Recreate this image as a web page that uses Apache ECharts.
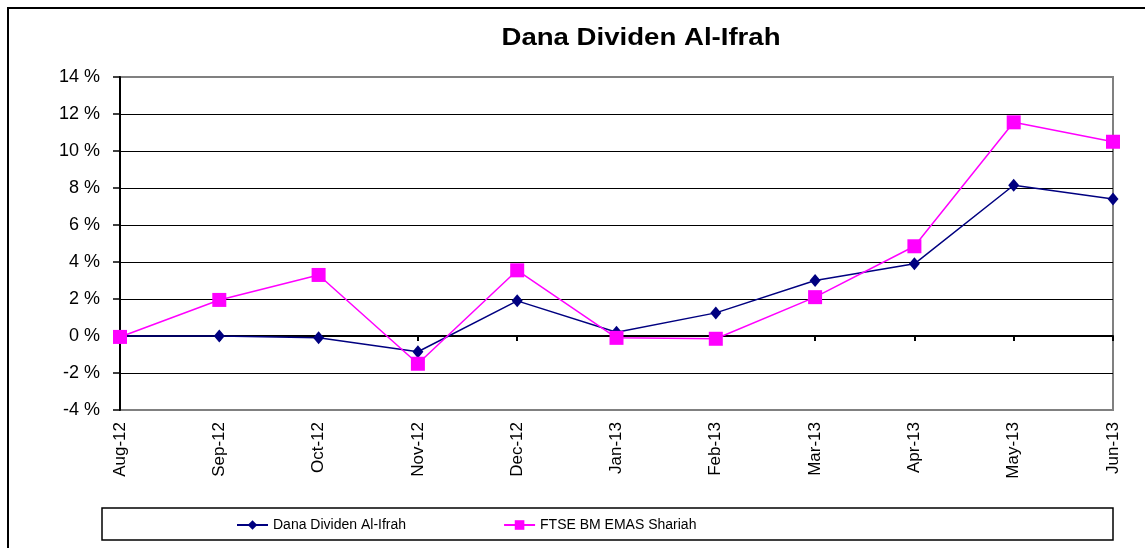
<!DOCTYPE html>
<html>
<head>
<meta charset="utf-8">
<script src="https://cdn.jsdelivr.net/npm/echarts@6/dist/echarts.min.js"></script>
<style>
    html, body { margin: 0; padding: 0; background: #fff; }
    #main { width: 1145px; height: 548px; }
</style>
</head>
<body>
<div id="main"></div>
<script>
    // data (percent)
    var months = ['Aug-12', 'Sep-12', 'Oct-12', 'Nov-12', 'Dec-12', 'Jan-13', 'Feb-13', 'Mar-13', 'Apr-13', 'May-13', 'Jun-13'];
    var danaName = 'Dana Dividen Al-Ifrah';
    var ftseName = 'FTSE BM EMAS Shariah';
    var danaValues = [0, 0, -0.1, -0.85, 1.9, 0.2, 1.25, 3.0, 3.9, 8.15, 7.4];
    var ftseValues = [-0.05, 1.95, 3.3, -1.5, 3.55, -0.1, -0.15, 2.1, 4.85, 11.55, 10.5];
    var yMin = -4, yMax = 14, yStep = 2;

    var font = '"Liberation Sans", Arial, sans-serif';
    var chart = echarts.init(document.getElementById('main'));

    // gridlines black, outer edges (-4% and 14%) gray
    var gridColors = [];
    for (var v = yMin; v <= yMax; v += yStep) {
        gridColors.push(v === yMin || v === yMax ? '#808080' : '#000');
    }

    chart.setOption({
        animation: false,
        backgroundColor: '#fff',
        graphic: [
            // outer frame
            { type: 'rect', shape: { x: 8, y: 8, width: 1200, height: 600 },
              style: { fill: 'none', stroke: '#000', lineWidth: 2 }, z: -1 },
            // legend box
            { type: 'rect', shape: { x: 102, y: 508, width: 1011, height: 32 },
              style: { fill: 'none', stroke: '#000', lineWidth: 1.5 } },
            // title, stretched a little like the original
            { type: 'text', x: 641, y: 27, scaleX: 1.2,
              style: { text: 'Dana Dividen Al-Ifrah', x: 0, y: 0, textAlign: 'center', textVerticalAlign: 'top',
                       font: 'bold 23px ' + font, fill: '#000' } }
        ],
        grid: {
            left: 120, right: 32, top: 77, bottom: 138,
            show: true, borderColor: '#808080', borderWidth: 2
        },
        legend: {
            left: 231, top: 513,
            itemWidth: 31, itemHeight: 12, itemGap: 97,
            textStyle: { fontFamily: font, fontSize: 14, color: '#000' },
            data: [danaName, ftseName]
        },
        xAxis: [{
            type: 'category',
            data: months,
            boundaryGap: false,
            position: 'bottom',
            axisLine: { show: false, onZero: false },
            axisTick: { show: false },
            axisLabel: { rotate: 90, margin: 12, fontFamily: font, fontSize: 17, color: '#000' },
            splitLine: { show: false }
        }, {
            // the 0% line with its ticks
            type: 'category',
            data: months,
            boundaryGap: false,
            position: 'bottom',
            axisLine: { show: true, onZero: true, lineStyle: { color: '#000', width: 2 } },
            axisTick: { show: true, length: 5, lineStyle: { color: '#000', width: 2 } },
            axisLabel: { show: false },
            splitLine: { show: false }
        }],
        yAxis: {
            type: 'value',
            min: yMin, max: yMax, interval: yStep,
            axisLine: { show: true, lineStyle: { color: '#000', width: 2 } },
            axisTick: { show: true, length: 7, lineStyle: { color: '#000', width: 1.5 } },
            axisLabel: { formatter: '{value} %', margin: 20, fontFamily: font, fontSize: 18, color: '#000' },
            splitLine: { show: true, lineStyle: { color: gridColors, width: 1.2 } }
        },
        series: [{
            name: danaName,
            type: 'line',
            xAxisIndex: 0,
            data: danaValues,
            symbol: 'diamond',
            symbolSize: [11, 13],
            color: '#000080',
            lineStyle: { width: 1.5, color: '#000080' },
            itemStyle: { color: '#000080' },
            z: 3
        }, {
            name: ftseName,
            type: 'line',
            xAxisIndex: 0,
            data: ftseValues,
            symbol: 'rect',
            symbolSize: 14,
            color: '#ff00ff',
            lineStyle: { width: 1.5, color: '#ff00ff' },
            itemStyle: { color: '#ff00ff' },
            z: 4
        }]
    });
</script>
</body>
</html>
